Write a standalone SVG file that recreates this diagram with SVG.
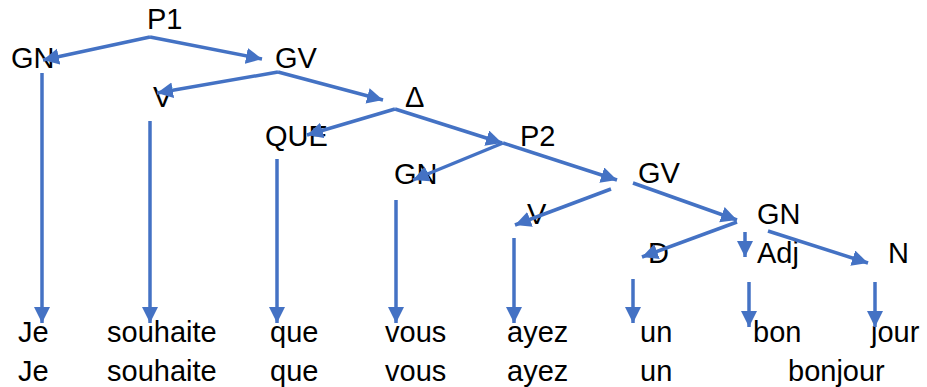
<svg xmlns="http://www.w3.org/2000/svg" width="927" height="387" viewBox="0 0 927 387">
<style>
  .lbl { font-family: "Liberation Sans", Arial, sans-serif; font-size: 29px; fill: #000; }
  .c line { stroke: #4472C4; stroke-width: 3.5; fill: none; marker-end: url(#ah); }
</style>
<defs>
  <marker id="ah" markerUnits="userSpaceOnUse" markerWidth="17" markerHeight="17" refX="16" refY="8" orient="auto">
    <path d="M0,0 L16,8 L0,16 z" fill="#4472C4"/>
  </marker>
</defs>
<rect width="927" height="387" fill="#fff"/>
<g id="n-P1"><text class="lbl" x="147" y="29">P1</text></g>
<g id="n-GN1"><text class="lbl" x="11" y="68">GN</text></g>
<g id="n-GV1"><text class="lbl" x="275" y="68">GV</text></g>
<g id="n-V1"><text class="lbl" x="153" y="107">V</text></g>
<g id="n-Delta"><text class="lbl" x="405" y="107">Δ</text></g>
<g id="n-QUE"><text class="lbl" x="265" y="146">QUE</text></g>
<g id="n-P2"><text class="lbl" x="520" y="146">P2</text></g>
<g id="n-GN2"><text class="lbl" x="394" y="184">GN</text></g>
<g id="n-GV2"><text class="lbl" x="638" y="183">GV</text></g>
<g id="n-V2"><text class="lbl" x="527" y="224">V</text></g>
<g id="n-GN3"><text class="lbl" x="757" y="224">GN</text></g>
<g id="n-D"><text class="lbl" x="648" y="263">D</text></g>
<g id="n-Adj"><text class="lbl" x="757" y="263">Adj</text></g>
<g id="n-N"><text class="lbl" x="888" y="263">N</text></g>
<g id="words1">
  <text class="lbl" x="18" y="342">Je</text>
  <text class="lbl" x="107" y="342">souhaite</text>
  <text class="lbl" x="270" y="342">que</text>
  <text class="lbl" x="385" y="342">vous</text>
  <text class="lbl" x="507" y="342">ayez</text>
  <text class="lbl" x="640" y="342">un</text>
  <text class="lbl" x="753" y="342">bon</text>
  <text class="lbl" x="871" y="342">jour</text>
</g>
<g id="words2">
  <text class="lbl" x="18" y="381">Je</text>
  <text class="lbl" x="107" y="381">souhaite</text>
  <text class="lbl" x="270" y="381">que</text>
  <text class="lbl" x="385" y="381">vous</text>
  <text class="lbl" x="507" y="381">ayez</text>
  <text class="lbl" x="640" y="381">un</text>
  <text class="lbl" x="788" y="381">bonjour</text>
</g>
<g id="connectors" class="c">
  <line x1="150" y1="37" x2="43" y2="60"/>
  <line x1="150" y1="37" x2="262" y2="59"/>
  <line x1="278" y1="72" x2="157" y2="93"/>
  <line x1="278" y1="72" x2="383" y2="100"/>
  <line x1="395" y1="109" x2="307" y2="135"/>
  <line x1="395" y1="109" x2="502" y2="143"/>
  <line x1="503" y1="143" x2="413" y2="180"/>
  <line x1="503" y1="143" x2="617" y2="180"/>
  <line x1="611" y1="189" x2="515" y2="225"/>
  <line x1="633" y1="183" x2="737" y2="220"/>
  <line x1="737" y1="222" x2="642" y2="257"/>
  <line x1="745" y1="232" x2="745" y2="257"/>
  <line x1="768" y1="231" x2="868" y2="263"/>
  <line x1="42" y1="73" x2="42" y2="323"/>
  <line x1="150" y1="121" x2="150" y2="323"/>
  <line x1="277" y1="159" x2="277" y2="323"/>
  <line x1="396" y1="200" x2="396" y2="323"/>
  <line x1="514" y1="238" x2="514" y2="323"/>
  <line x1="633" y1="279" x2="633" y2="323"/>
  <line x1="749" y1="282" x2="749" y2="327"/>
  <line x1="875" y1="282" x2="875" y2="327"/>
</g>
</svg>
